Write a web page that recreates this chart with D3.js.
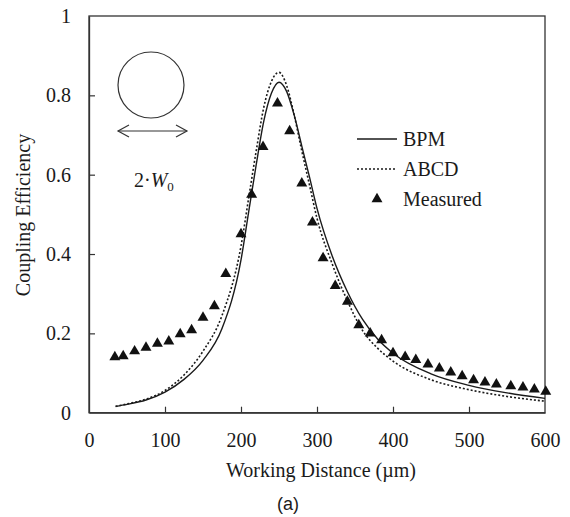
<!DOCTYPE html>
<html>
<head>
<meta charset="utf-8">
<script src="https://cdn.jsdelivr.net/npm/d3@7"></script>
<style>
  html, body { margin: 0; padding: 0; background: #fff; }
  svg { display: block; }
  text { font-family: "Liberation Serif", "Times New Roman", serif; fill: #1a1a1a; }
</style>
</head>
<body>
<svg id="chart" width="570" height="517"></svg>
<script>
// ---- data ----
const xTicks = [0, 100, 200, 300, 400, 500, 600];
const yTicks = [0, 0.2, 0.4, 0.6, 0.8, 1];
const yTickLabels = ["0", "0.2", "0.4", "0.6", "0.8", "1"];

const curveX = [35, 50, 75, 100, 125, 150, 175, 200, 210, 220, 230, 240, 250, 260, 270, 280, 290, 300, 320, 340, 360, 380, 400, 450, 500, 550, 600];
const bpm    = [0.016, 0.021, 0.032, 0.052, 0.084, 0.132, 0.212, 0.385, 0.505, 0.625, 0.735, 0.805, 0.833, 0.81, 0.75, 0.672, 0.595, 0.515, 0.395, 0.305, 0.235, 0.185, 0.15, 0.098, 0.069, 0.05, 0.036];
const abcd   = [0.016, 0.022, 0.034, 0.056, 0.095, 0.155, 0.245, 0.42, 0.54, 0.66, 0.77, 0.835, 0.858, 0.825, 0.75, 0.66, 0.575, 0.49, 0.375, 0.282, 0.207, 0.162, 0.13, 0.083, 0.058, 0.041, 0.029];

const measX = [34, 45, 60, 75, 90, 105, 120, 135, 150, 165, 180, 200, 214, 229, 248, 264, 280, 294, 308, 324, 340, 355, 370, 385, 400, 416, 430, 446, 461, 476, 491, 506, 521, 536, 555, 571, 586, 601];
const measY = [0.14, 0.143, 0.155, 0.164, 0.174, 0.18, 0.198, 0.208, 0.24, 0.269, 0.35, 0.45, 0.55, 0.67, 0.78, 0.71, 0.578, 0.48, 0.39, 0.32, 0.28, 0.221, 0.2, 0.183, 0.15, 0.141, 0.133, 0.122, 0.112, 0.102, 0.0925, 0.0825, 0.0766, 0.0716, 0.067, 0.064, 0.059, 0.053];

const legendItems = ["BPM", "ABCD", "Measured"];

// ---- layout ----
const svg = d3.select("#chart");
const L = 89, R = 545, T = 16, B = 412.7;
const x = d3.scaleLinear().domain([0, 600]).range([L, R]);
const y = d3.scaleLinear().domain([0, 1]).range([B, T]);
const ink = "#1a1a1a";
const serif = "'Liberation Serif', 'Times New Roman', serif";

// frame
svg.append("rect").attr("x", L).attr("y", T).attr("width", R - L).attr("height", B - T)
  .attr("fill", "none").attr("stroke", "#333").attr("stroke-width", 1.3);

// axes with inward ticks
const xAxis = svg.append("g").attr("transform", `translate(0,${B})`)
  .call(d3.axisBottom(x).tickValues(xTicks).tickSizeInner(-6).tickSizeOuter(0).tickPadding(20).tickFormat(d3.format("d")));
const yAxis = svg.append("g").attr("transform", `translate(${L},0)`)
  .call(d3.axisLeft(y).tickValues(yTicks).tickSizeInner(-6).tickSizeOuter(0).tickPadding(18).tickFormat((d, i) => yTickLabels[i]));
[xAxis, yAxis].forEach(g => {
  g.select(".domain").attr("stroke", "#333").attr("stroke-width", 1.3);
  g.selectAll(".tick line").attr("stroke", "#333").attr("stroke-width", 1.2);
  g.selectAll(".tick text").style("font-family", serif).attr("font-size", 20).attr("fill", ink);
});
xAxis.selectAll(".tick line").filter(d => d === 0 || d === 600).remove();
yAxis.selectAll(".tick line").filter(d => d === 0 || d === 1).remove();

// axis titles
svg.append("text").attr("x", 321).attr("y", 477).attr("text-anchor", "middle")
  .style("font-family", serif).attr("font-size", 20).text("Working Distance (\u00B5m)");
svg.append("text").attr("transform", "translate(30,215) rotate(-90)").attr("text-anchor", "middle")
  .style("font-family", serif).attr("font-size", 20).text("Coupling Efficiency");
svg.append("text").attr("x", 288).attr("y", 510).attr("text-anchor", "middle")
  .style("font-family", "'Liberation Sans', Arial, sans-serif")
  .attr("font-size", 18).text("(a)");

// curves
const line = d3.line().x(d => x(d[0])).y(d => y(d[1])).curve(d3.curveMonotoneX);
svg.append("path").datum(curveX.map((v, i) => [v, bpm[i]])).attr("d", line)
  .attr("fill", "none").attr("stroke", ink).attr("stroke-width", 1.4);
svg.append("path").datum(curveX.map((v, i) => [v, abcd[i]])).attr("d", line)
  .attr("fill", "none").attr("stroke", ink).attr("stroke-width", 1.6).attr("stroke-dasharray", "2,2");

// measured triangles
const tri = d3.symbol().type(d3.symbolTriangle).size(52);
svg.append("g").selectAll("path").data(measX.map((v, i) => [v, measY[i]])).join("path")
  .attr("d", tri).attr("transform", d => `translate(${x(d[0])},${y(d[1])})`)
  .attr("fill", "#111");

// legend
const lg = svg.append("g");
const ly = [139, 169, 199];
lg.append("line").attr("x1", 357).attr("x2", 397).attr("y1", ly[0]).attr("y2", ly[0])
  .attr("stroke", ink).attr("stroke-width", 1.4);
lg.append("line").attr("x1", 357).attr("x2", 397).attr("y1", ly[1]).attr("y2", ly[1])
  .attr("stroke", ink).attr("stroke-width", 1.6).attr("stroke-dasharray", "2,2");
lg.append("path").attr("d", tri).attr("transform", `translate(377,${ly[2]})`).attr("fill", "#111");
legendItems.forEach((t, i) => {
  lg.append("text").attr("x", 403).attr("y", ly[i] + 7).style("font-family", serif).attr("font-size", 20).text(t);
});

// inset: circle with double arrow and 2·W0
const ins = svg.append("g");
ins.append("circle").attr("cx", 151).attr("cy", 85).attr("r", 33)
  .attr("fill", "none").attr("stroke", "#333").attr("stroke-width", 1.2);
ins.append("line").attr("x1", 118).attr("x2", 187).attr("y1", 131).attr("y2", 131)
  .attr("stroke", "#333").attr("stroke-width", 1.2);
ins.append("path").attr("d", "M129,125 L118,131 L129,137 M176,125 L187,131 L176,137")
  .attr("fill", "none").attr("stroke", "#333").attr("stroke-width", 1.2);
const lab = ins.append("text").attr("x", 134).attr("y", 187).style("font-family", serif).attr("font-size", 20);
lab.append("tspan").text("2\u00B7");
lab.append("tspan").attr("font-style", "italic").text("W");
lab.append("tspan").attr("font-size", 13).attr("dy", 4).text("0");
</script>
</body>
</html>
